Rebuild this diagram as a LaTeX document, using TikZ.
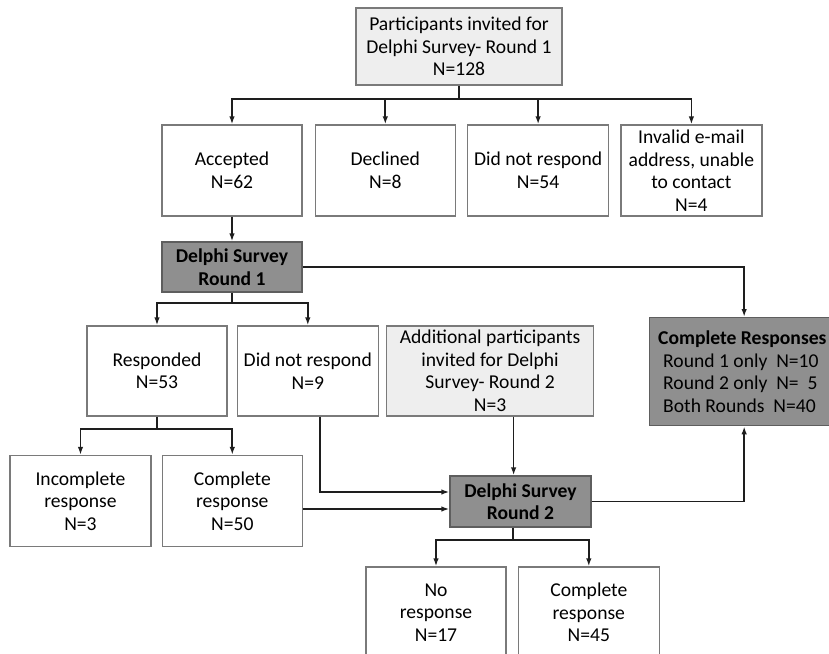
\documentclass[tikz,border=0pt]{standalone}
\usepackage{fontspec}
\setmainfont{Carlito}
\usetikzlibrary{positioning,arrows.meta}
\definecolor{lightfill}{HTML}{EEEEEE}
\definecolor{darkfill}{HTML}{8F8F8F}
\definecolor{boxline}{HTML}{7A7A7A}
\definecolor{darkline}{HTML}{5E5E5E}
\definecolor{wirecol}{HTML}{1E1E1E}
\newcommand{\boxfont}{\fontsize{19.6bp}{22.5bp}\selectfont}
\tikzset{wbox/.style={rectangle,draw=boxline,line width=1.3bp,fill=white,minimum width=140bp,minimum height=91bp,inner sep=1bp,align=center,font=\boxfont},
	 lbox/.style={wbox,fill=lightfill},
	 dbox/.style={wbox,draw=darkline,fill=darkfill,minimum height=50bp,font=\boxfont\bfseries},
	 arr/.style={draw=wirecol,line width=1.7bp,-{Latex[length=8bp,width=5.5bp]}},
	 wire/.style={draw=wirecol,line width=1.7bp}
	 }

\begin{document}
\begin{tikzpicture}[x=1bp,y=-1bp] % Delphi survey flow
	\useasboundingbox (0,0) rectangle (829,654);
	\clip (0,0) rectangle (829,654);
	\node[lbox,minimum width=206bp,minimum height=77bp] (invited) at (459,46.5) {Participants invited for\\Delphi Survey- Round 1\\N=128};
	\node[wbox] (acc) at (232,170.5) {Accepted\\N=62};
	\node[wbox] (decl) [right=12bp of acc] {Declined\\N=8};
	\node[wbox,minimum width=141bp] (nores1) [right=11bp of decl] {Did not respond\\N=54};
	\node[wbox,minimum width=141bp] (inval) [right=11bp of nores1] {Invalid e-mail\\address, unable\\to contact\\N=4};
	\node[dbox] (ds1) at (232,267) {Delphi Survey\\Round 1};
	\node[wbox,minimum height=90bp] (resp) at (157,371) {Responded\\N=53};
	\node[wbox,minimum width=141bp,minimum height=90bp] (nores2) [right=9bp of resp] {Did not respond\\N=9};
	\node[lbox,minimum width=207bp,minimum height=90bp] (addl) [right=7bp of nores2] {Additional participants\\invited for Delphi\\Survey- Round 2\\N=3};
	\node[dbox,minimum width=189bp,minimum height=108bp,anchor=north west] (cr) at (649,317) {};
	\node[font=\boxfont,align=left,inner sep=0pt,anchor=west] (crtext) at ([xshift=9bp]cr.west) {\textbf{Complete Responses}\\\hspace*{5bp}Round 1 only\ \ N=10\\\hspace*{5bp}Round 2 only\ \ N=\ \ 5\\\hspace*{5bp}Both Rounds\ \ N=40};
	\node[wbox,minimum width=141bp] (incomp) at (80.5,501) {Incomplete\\response\\N=3};
	\node[wbox] (comp1) [right=10bp of incomp] {Complete\\response\\N=50};
	\node[dbox,minimum width=141bp,minimum height=51bp] (ds2) at (520.5,501.5) {Delphi Survey\\Round 2};
	\node[wbox] (nores3) at (436,612.5) {No\\response\\N=17};
	\node[wbox,minimum width=141bp] (comp2) [right=11bp of nores3] {Complete\\response\\N=45};
	% round 1
	\coordinate (j1) at (459,99);
	\draw[wire] (invited) -- (j1);
	\foreach \n in {acc,decl,nores1,inval} \draw[arr] (j1) -| (\n);
	\draw[arr] (acc) -- (ds1);
	\draw[arr] (ds1.east) -| (cr);
	\coordinate (j2) at (232,303);
	\draw[wire] (ds1) -- (j2);
	\draw[arr] (j2) -| (resp);
	\draw[arr] (j2) -| (nores2);
	\coordinate (j3) at (157,429);
	\draw[wire] (resp) -- (j3);
	\draw[arr] (j3) -| (incomp);
	\draw[arr] (j3) -| (comp1);
	% round 2
	\draw[arr] ([xshift=12.5bp]nores2.south) |- ([yshift=9.5bp]ds2.west);
	\draw[arr] ([yshift=-8bp]comp1.east) -- ([yshift=-8bp]comp1.east -| ds2.west);
	\draw[arr] ([xshift=23.5bp]addl.south) -- ([xshift=23.5bp]addl.south |- ds2.north);
	\draw[arr] (ds2) -| (cr);
	\coordinate (j4) at (513,540);
	\draw[wire] (ds2.south -| j4) -- (j4);
	\draw[arr] (j4) -| (nores3);
	\draw[arr] (j4) -| (comp2);
\end{tikzpicture}
\end{document}
